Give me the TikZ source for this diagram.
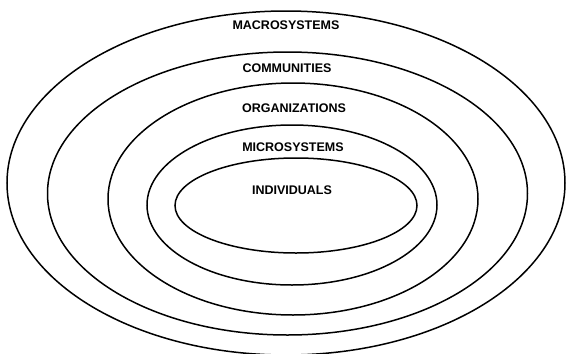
\documentclass[tikz,border=0pt]{standalone}
\usepackage{fontspec}
\setmainfont{Liberation Sans}
\usepackage{tikz}
\usetikzlibrary{positioning}

\tikzset{
    ring/.style={line width=1.5pt},
    lbl/.style={font=\fontsize{12.5}{14}\selectfont\bfseries, inner sep=0pt}
}

\begin{document}
\begin{tikzpicture}[x=1pt, y=-1pt]
        \path[use as bounding box] (0, 0) rectangle (566, 354);
        % nested levels, outermost first
        \draw[ring] (286, 183) ellipse [x radius=279pt, y radius=172pt];
        \draw[ring] (287.5, 193.5) ellipse [x radius=240pt, y radius=141.5pt];
        \draw[ring] (293, 199) ellipse [x radius=185pt, y radius=116pt];
        \draw[ring] (292, 205) ellipse [x radius=145pt, y radius=80pt];
        \draw[ring] (296, 205.5) ellipse [x radius=121pt, y radius=47.5pt];
        \node[lbl] (macro) at (286, 25) {MACROSYSTEMS};
        \node[lbl] (comm) at (287, 68) {COMMUNITIES};
        \node[lbl] (org) at (294, 108) {ORGANIZATIONS};
        \node[lbl] (micro) at (293, 147) {MICROSYSTEMS};
        \node[lbl] (indiv) at (292, 190) {INDIVIDUALS};
    \end{tikzpicture}
\end{document}
